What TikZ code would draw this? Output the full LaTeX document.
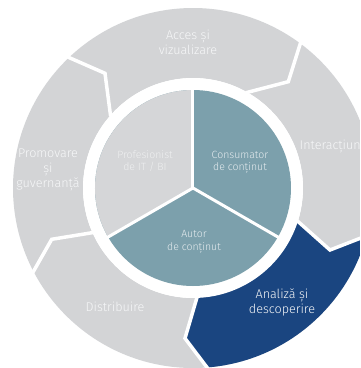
\documentclass[tikz,border=0pt]{standalone}
\usepackage{fontspec}
\setmainfont{Fira Sans Light}
\definecolor{ringgrey}{RGB}{211,212,214}
\definecolor{sectgrey}{RGB}{213,214,216}
\definecolor{teal}{RGB}{124,160,172}
\definecolor{darkblue}{RGB}{26,69,128}
\definecolor{lbltxt}{RGB}{246,247,248}
\definecolor{proftxt}{RGB}{238,239,240}
\definecolor{tealtxt}{RGB}{228,235,238}
\tikzset{
  ringlbl/.style={text=lbltxt, align=center, inner sep=0pt, font=\fontsize{12.6}{15}\selectfont},
  innerlbl/.style={align=center, inner sep=0pt, font=\fontsize{10.5}{12.3}\selectfont},
  sep/.style={white, line width=3.5pt, line join=miter},
  isep/.style={white, line width=3pt}
}
\begin{document}
\begin{tikzpicture}[x=1pt,y=-1pt]
\useasboundingbox (0,0) rectangle (360,368);
\clip (0,0) rectangle (360,368);
\coordinate (C) at (193,188);
% outer ring
\fill[ringgrey, even odd rule] (C) circle[radius=180pt] (C) circle[radius=110pt];
% highlighted segment
\begin{scope}
  \clip (C) circle[radius=180pt];
  \fill[darkblue] (C) -- (300,223.3) -- (330,250) -- (402,222) -- (420,420) -- (227,394) -- (185,338.3) -- (196.7,298.3) -- cycle;
\end{scope}
\fill[white] (C) circle[radius=110pt];
% segment separators
\coordinate (a1) at (60,53.6); \coordinate (a2) at (105,73.3); \coordinate (a3) at (110.6,116);
\coordinate (b1) at (303,35); \coordinate (b2) at (288.3,81.7); \coordinate (b3) at (246,92.7);
\coordinate (c1) at (402,222); \coordinate (c2) at (330,250); \coordinate (c3) at (296,219.7);
\coordinate (d1) at (212,374); \coordinate (d2) at (185,338.3); \coordinate (d3) at (198,294);
\coordinate (e1) at (28,281); \coordinate (e2) at (51.7,239.3); \coordinate (e3) at (94,232.4);
\draw[sep] (a1) -- (a2) -- (a3);
\draw[sep] (b1) -- (b2) -- (b3);
\draw[sep] (c1) -- (c2) -- (c3);
\draw[sep] (d1) -- (d2) -- (d3);
\draw[sep] (e1) -- (e2) -- (e3);
% inner circle
\fill[teal] (C) circle[radius=98pt];
\begin{scope}
  \clip (C) circle[radius=98pt];
  \fill[sectgrey] (C) -- (193,-5) -- (-5,-5) -- (-5,302.3) -- cycle;
\end{scope}
\coordinate (t1) at (193,85);
\coordinate (t2) at (103.8,239.5);
\coordinate (t3) at (282.2,239.5);
\draw[isep] (C) -- (t1);
\draw[isep] (C) -- (t2);
\draw[isep] (C) -- (t3);
% labels
\node[ringlbl] (acc) at (188,42.5) {Acces și\\vizualizare};
\node[ringlbl, anchor=west] (int) at (299.5,147) {Interacțiune};
\node[ringlbl] (pro) at (48,170) {Promovare\\și\\guvernanță};
\node[ringlbl] (dis) at (115,307) {Distribuire};
\node[ringlbl] (ana) at (282,302) {Analiză și\\descoperire};
\node[innerlbl, text=proftxt] (prof) at (145,161) {Profesionist\\de IT / BI};
\node[innerlbl, text=tealtxt] (cons) at (240,162) {Consumator\\de conținut};
\node[innerlbl, text=tealtxt] (aut) at (194,242) {Autor\\de conținut};
\end{tikzpicture}
\end{document}
